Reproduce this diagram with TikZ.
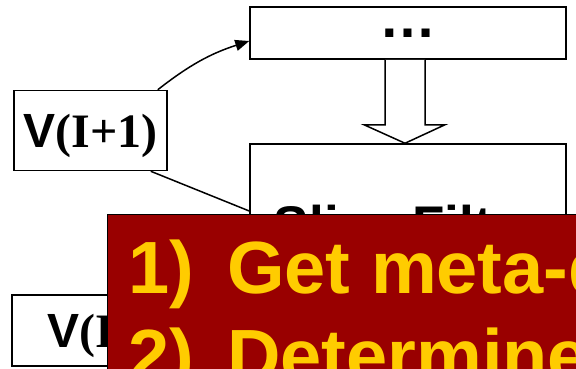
\documentclass[tikz,border=0pt]{standalone}
\usepackage{fontspec}
\setmainfont{Liberation Sans}
\newfontfamily\tnr{Liberation Serif}
\usetikzlibrary{arrows.meta,calc}
\definecolor{panelred}{HTML}{990000}
\definecolor{itemgold}{HTML}{FFCC00}

\begin{document}
\begin{tikzpicture}[x=1pt,y=-1pt,
  box/.style={draw=black,line width=1.5pt,fill=white,inner sep=0pt},
  vlabel/.style={box,font=\bfseries\fontsize{48}{48}\selectfont,text height=34pt,text depth=0pt},
  link/.style={line width=1.5pt},
  hollow/.style={draw=black,line width=1.5pt,fill=white,line join=miter},
  item/.style={anchor=base west,inner sep=0pt,text=itemgold,font=\bfseries\fontsize{74}{74}\selectfont}]
\useasboundingbox (0,0) rectangle (576,368);
\clip (0,0) rectangle (576,368);

% processing stages
\node[box,minimum width=316pt,minimum height=52pt,font=\bfseries\fontsize{57}{57}\selectfont] (top) at (408,33) {…};
\node[box,minimum width=316pt,minimum height=162pt,font=\bfseries\fontsize{53}{53}\selectfont] (filter) at (408,225) {Slice Filter};

% volumes
\node[vlabel,minimum width=153pt,minimum height=80pt] (vnext) at (90.5,130.5) {V{\tnr(I+1)}};
\node[vlabel,minimum width=154pt,minimum height=71pt] (vcur) at (89,330.5) {V{\tnr(I)}};

% connectors
\draw[link,-{Triangle[length=14pt,width=11pt]}] ([xshift=-10pt]vnext.north east) to[bend left=10] ([yshift=-8pt]top.west);
\draw[link] ([xshift=-17pt]vnext.south east) -- ([yshift=14pt]filter.west);

% hollow block arrow between the stages
\draw[hollow] ($(top.south)+(-23,0)$) -- ++(0,65) -- ++(-21,0) -- ($(filter.north)+(-3,0)$)
  -- ($(top.south)+(37,65)$) -- ++(-20,0) -- ($(top.south)+(17,0)$);

% overlay panel
\node[draw=black,line width=1pt,fill=panelred,minimum width=500pt,minimum height=200pt,anchor=north west,inner sep=0pt] (panel) at (107,214) {};
\node[item] (itemone) at (128,293) {\makebox[99pt][l]{1)}Get meta-data};
\node[item] (itemtwo) at (128,381) {\makebox[99pt][l]{2)}Determine};
\end{tikzpicture}
\end{document}
